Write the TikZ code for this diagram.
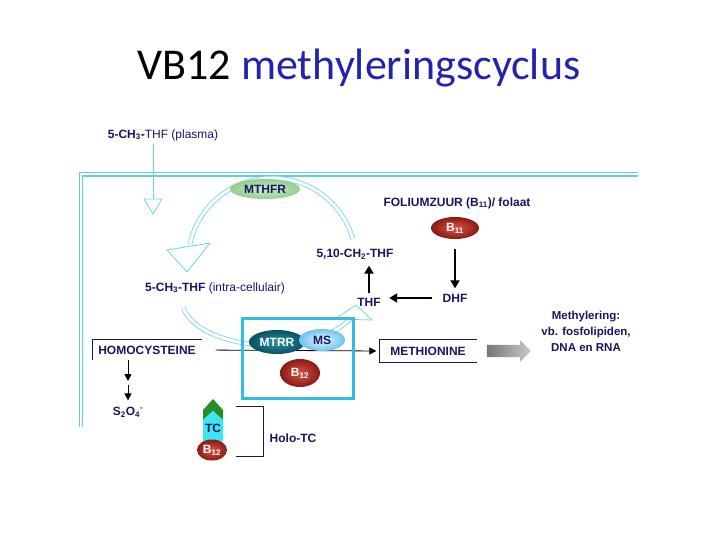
\documentclass[tikz,border=0pt]{standalone}
\usepackage{fontspec}
\setmainfont{Liberation Sans}
\newfontfamily\titlefont{Carlito}
\usetikzlibrary{shapes.geometric}
\usetikzlibrary{shapes.arrows}
\usetikzlibrary{arrows.meta, calc}
\usetikzlibrary{positioning}

\definecolor{navy}{RGB}{22,22,100}
\definecolor{titleblue}{RGB}{35,35,175}
\definecolor{memcyan}{RGB}{95,210,210}
\definecolor{bandcyan}{RGB}{110,215,225}
\definecolor{boxcyan}{RGB}{50,190,225}
\definecolor{redin}{RGB}{215,85,70}
\definecolor{redout}{RGB}{140,25,20}
\definecolor{tealin}{RGB}{45,145,165}
\definecolor{tealout}{RGB}{10,80,100}
\definecolor{msin}{RGB}{230,245,255}
\definecolor{msout}{RGB}{110,195,240}
\definecolor{greenin}{RGB}{205,235,195}
\definecolor{greenout}{RGB}{150,205,145}
\definecolor{tcgreen}{RGB}{40,140,40}
\definecolor{tccyan}{RGB}{60,230,240}
\definecolor{arrowlight}{RGB}{200,200,200}
\definecolor{arrowdark}{RGB}{120,120,120}

\begin{document}
\begin{tikzpicture}
  [
    x=1pt, y=-1pt,
    >=Stealth,
    every node/.style = {font=\fontsize{12}{14}\selectfont\bfseries, text=navy},
    ball/.style     = {ellipse, shading=radial, inner sep=0pt},
    redball/.style  = {ball, inner color=redin, outer color=redout, text=white},
    flow/.style     = {-{Triangle[width=9pt,length=8pt]}, line width=2pt},
    react/.style    = {-{Triangle[width=7pt,length=7pt]}, line width=0.8pt},
    band/.style     = {draw=bandcyan, double=white, double distance=3pt, line width=0.8pt},
    bandhead/.style = {draw=bandcyan, fill=white, line width=0.8pt},
    membrane/.style = {draw=memcyan, double=white, double distance=2pt, line width=1.2pt},
    bracket/.style  = {draw=navy, line width=0.8pt},
  ]

  \useasboundingbox (0,0) rectangle (720,540);

  % the title
  \node (title) at (359,68) {\titlefont\mdseries\fontsize{44}{50}\selectfont
    \textcolor{black}{VB12} \textcolor{titleblue}{methyleringscyclus}};

  % the cell membrane
  \draw[membrane] (638,174.5) -- (81,174.5) -- (81,427);

  % folate side
  \node (plasma) at (163,135) {5-CH\textsubscript{3}-\mdseries THF (plasma)};
  \coordinate (inhead) at (153,199);
  \draw[bandcyan, line width=0.9pt] (plasma.south -| inhead) -- (inhead);
  \draw[bandhead] (inhead) ++(-9,0) -- ++(18,0) -- (153,214) -- cycle;

  \node (folium) at (457,203) {FOLIUMZUUR (B\textsubscript{11})/ folaat};
  \node (b11) [redball, minimum width=48, minimum height=22] at (455,228) {B\textsubscript{11}};
  \node (ch2) at (355,254) {5,10-CH\textsubscript{2}-THF};
  \node (thf) at (369,302) {THF};
  \node (dhf) at (455,298) {DHF};
  \node (ch3) at (215,288) {5-CH\textsubscript{3}-THF \mdseries(intra-cellulair)};

  \draw[flow, shorten <=10pt, shorten >=2pt] (b11) -- (dhf);
  \draw[flow, shorten <=7pt, shorten >=5pt] (dhf.west) -- (dhf.west -| thf.east);
  \draw[flow, shorten <=1pt, shorten >=3pt] (thf.north) -- (thf.north |- ch2.south);

  % the upper cycle
  \coordinate (cyc) at (272,262);
  \draw[band] ([shift={(-16:84)}]cyc) arc[start angle=-16, end angle=-168, radius=84];
  \draw[bandhead] (167,250) -- (210,243) -- (187,272) -- cycle;
  \node (mthfr) [ball, inner color=greenin, outer color=greenout, minimum width=70, minimum height=20] at (265,189) {MTHFR};

  % the lower cycle
  \coordinate (low) at (270,300);
  \draw[band] ([shift={(170:88 and 45)}]low) arc[start angle=170, end angle=22, x radius=88, y radius=45];
  \draw[bandhead] (335,319) -- (356,305) -- (372,320) -- cycle;

  % homocysteine -> methionine
  \node (homo) [minimum width=109, minimum height=20] at (147,350) {HOMOCYSTEINE};
  \draw[bracket] (homo.north east) -- (homo.north west) -- (homo.south west);
  \node (methio) [minimum width=97, minimum height=23] at (428,351) {METHIONINE};
  \draw[bracket] (methio.north east) -- (methio.north west) -- (methio.south west) -- (methio.south east);
  \draw[react, shorten <=14pt, shorten >=3pt] (homo.east) -- (methio.west);

  \draw[boxcyan, line width=3pt] (242,318) rectangle (353,398);
  \node (mtrr) [ball, inner color=tealin, outer color=tealout, text=white, minimum width=56, minimum height=24] at (277,342) {MTRR};
  \node (ms) [ball, inner color=msin, outer color=msout, minimum width=46, minimum height=22] at (322,340) {MS};
  \node (b12) [redball, minimum width=40, minimum height=28] at (300,373) {B\textsubscript{12}};

  % methylation output
  \node (outarrow) [single arrow, single arrow head extend=4.5pt, minimum height=44,
    inner xsep=0pt, inner ysep=6pt, font=\fontsize{1}{1}\selectfont,
    left color=arrowdark, right color=arrowlight, right=10pt of methio] {};
  \node (methyl) [align=center, font=\fontsize{11.5}{16}\selectfont\bfseries] at (586,331)
    {Methylering:\\vb. fosfolipiden,\\DNA en RNA};

  % side branch
  \node (s2o4) at (128,412) {S\textsubscript{2}O\textsubscript{4}\textsuperscript{-}};
  \coordinate (split) at (128,383);
  \draw[react, shorten >=2pt] (split |- homo.south) -- (split);
  \draw[react, shorten <=2pt, shorten >=3pt] (split) -- (s2o4);

  % holo-TC
  \fill[tcgreen] (203,410) -- (213,399) -- (223,410) -- (223,420) -- (213,411) -- (203,420) -- cycle;
  \fill[tccyan] (203,420) -- (213,411) -- (223,420) -- (223,441) -- (203,441) -- cycle;
  \node (tc) at (213,428) {TC};
  \node (tcb12) [redball, minimum width=30, minimum height=21] at (212,450) {B\textsubscript{12}};
  \draw[bracket] (236,406) -| (263,456) -- (236,456);
  \node (holo) at (293,438) {Holo-TC};

\end{tikzpicture}
\end{document}
